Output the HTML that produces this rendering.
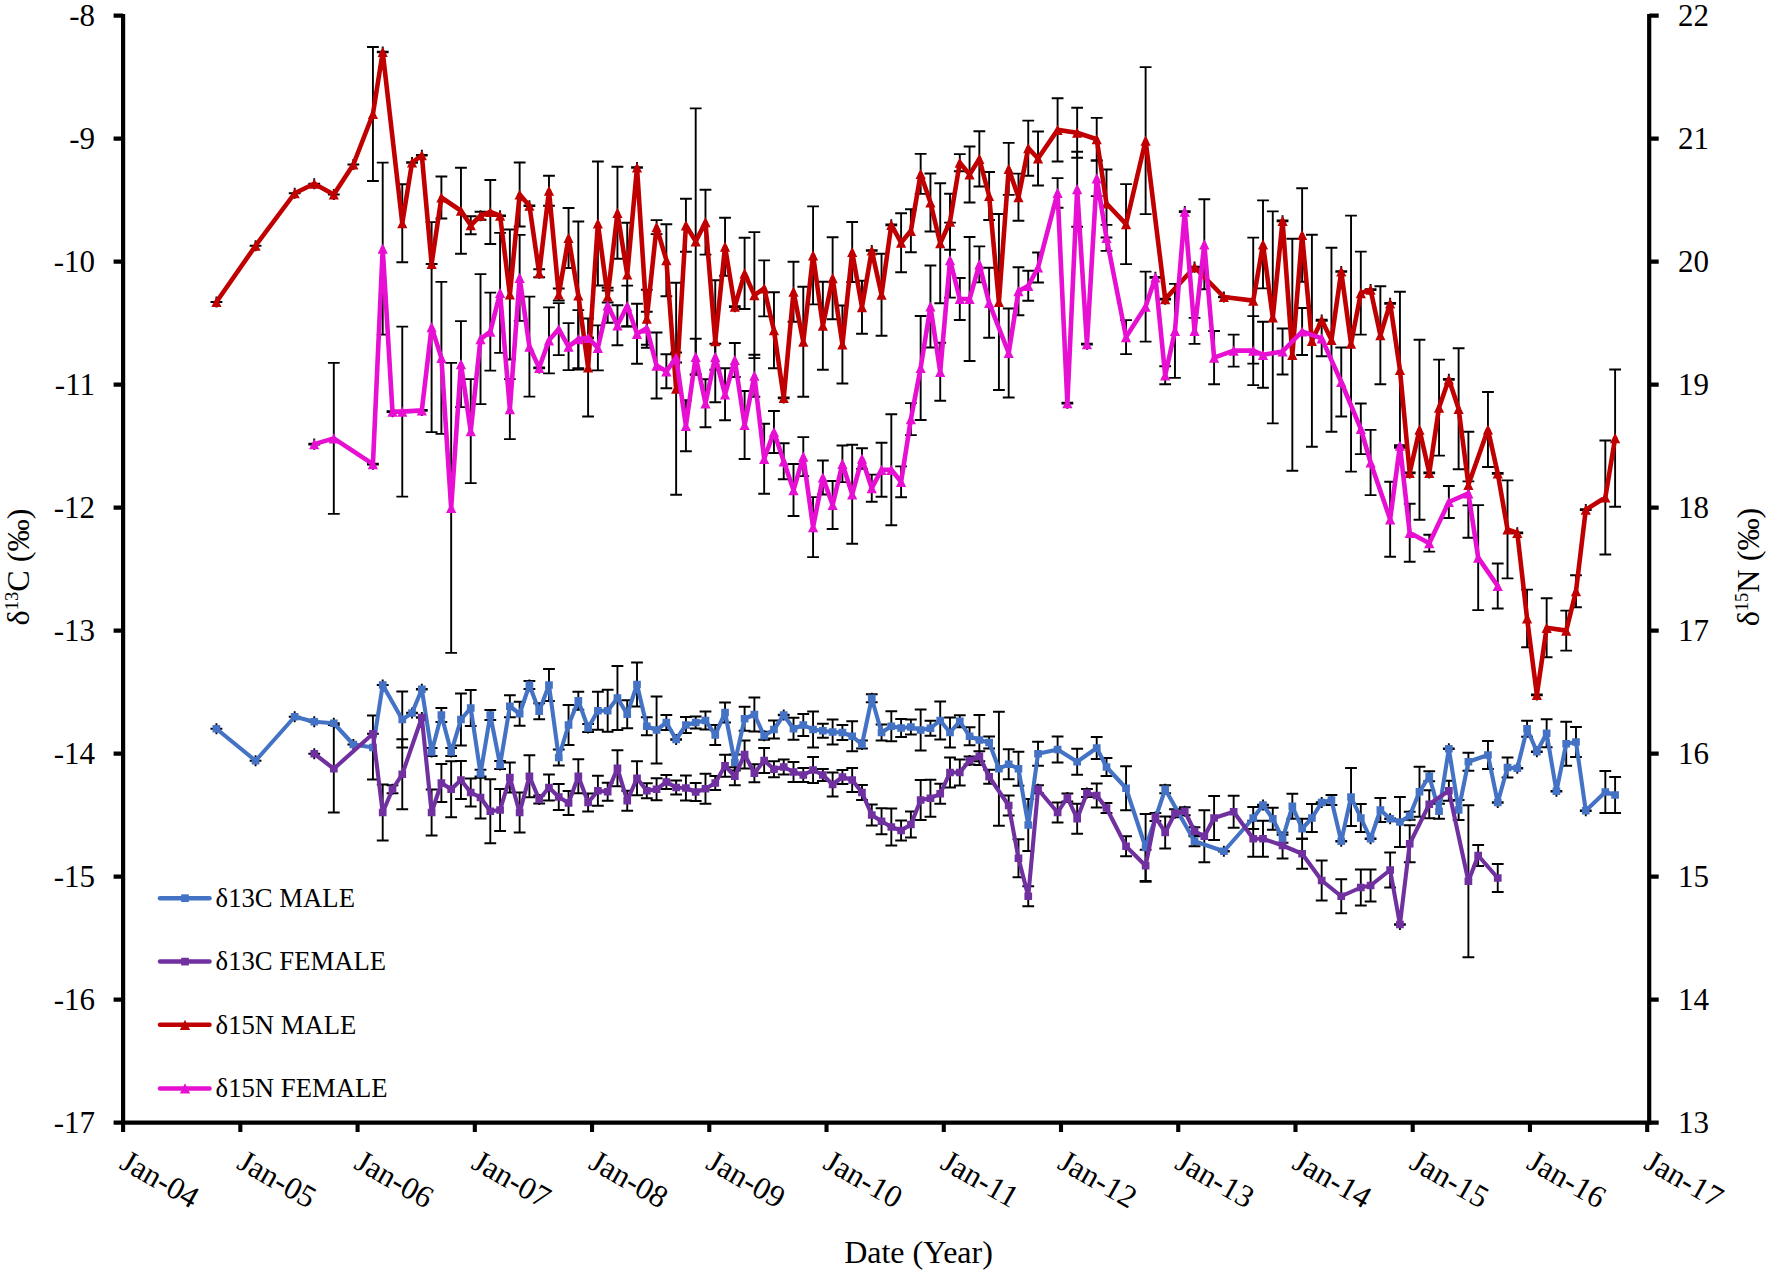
<!DOCTYPE html><html><head><meta charset="utf-8"><title>Stable isotope chart</title>
<style>html,body{margin:0;padding:0;background:#fff}svg{display:block}text{font-family:"Liberation Serif",serif;fill:#000}</style></head><body>
<svg width="1772" height="1276" viewBox="0 0 1772 1276">
<rect width="1772" height="1276" fill="#fff"/>
<path d="M216.43 723.15V734.35M210.53 728.75h11.8M255.55 755.15V766.35M249.65 760.75h11.8M294.68 711.15V722.35M288.78 716.75h11.8M314.24 716.15V727.35M308.34 721.75h11.8M333.8 717.65V728.85M327.9 723.25h11.8M353.36 738.9V750.1M347.46 744.5h11.8M372.93 715.5V779.5M367.03 715.5h11.8M367.03 779.5h11.8M382.71 679.4V690.6M376.81 685h11.8M402.27 691.5V747.5M396.37 691.5h11.8M396.37 747.5h11.8M412.05 707.4V718.6M406.15 712.6h11.8M406.15 713.4h11.8M421.83 683.65V694.85M415.93 688.85h11.8M415.93 689.65h11.8M431.61 746.4V757.6M425.71 748h11.8M425.71 756h11.8M441.39 708V722M435.49 708h11.8M435.49 722h11.8M451.17 746.4V757.6M445.27 748h11.8M445.27 756h11.8M460.95 693.5V745.5M455.05 693.5h11.8M455.05 745.5h11.8M470.74 690V726M464.84 690h11.8M464.84 726h11.8M480.52 768.15V779.35M474.62 769.75h11.8M474.62 777.75h11.8M490.3 709.4V720.6M484.4 710h11.8M484.4 720h11.8M500.08 759.4V770.6M494.18 761h11.8M494.18 769h11.8M509.86 695.25V717.25M503.96 695.25h11.8M503.96 717.25h11.8M519.64 701.75V725.75M513.74 701.75h11.8M513.74 725.75h11.8M529.42 679.4V690.6M523.52 681h11.8M523.52 689h11.8M539.2 703.25V719.25M533.3 703.25h11.8M533.3 719.25h11.8M548.98 669V701M543.08 669h11.8M543.08 701h11.8M558.76 749.5V765.5M552.86 749.5h11.8M552.86 765.5h11.8M568.55 705V745M562.65 705h11.8M562.65 745h11.8M578.33 691.75V709.75M572.43 691.75h11.8M572.43 709.75h11.8M588.11 722.4V733.6M582.21 724h11.8M582.21 732h11.8M597.89 691.75V729.75M591.99 691.75h11.8M591.99 729.75h11.8M607.67 689.75V731.75M601.77 689.75h11.8M601.77 731.75h11.8M617.45 666V730M611.55 666h11.8M611.55 730h11.8M627.23 700.25V728.25M621.33 700.25h11.8M621.33 728.25h11.8M637.01 662.5V706.5M631.11 662.5h11.8M631.11 706.5h11.8M646.79 717.25V735.25M640.89 717.25h11.8M640.89 735.25h11.8M656.57 696.5V763.5M650.67 696.5h11.8M650.67 763.5h11.8M666.36 715V730M660.46 715h11.8M660.46 730h11.8M676.14 733.9V745.1M670.24 739.1h11.8M670.24 739.9h11.8M685.92 717V733M680.02 717h11.8M680.02 733h11.8M695.7 716.5V728.5M689.8 716.5h11.8M689.8 728.5h11.8M705.48 711.5V729.5M699.58 711.5h11.8M699.58 729.5h11.8M715.26 725V745M709.36 725h11.8M709.36 745h11.8M725.04 702.5V722.5M719.14 702.5h11.8M719.14 722.5h11.8M734.82 754.5V770.5M728.92 754.5h11.8M728.92 770.5h11.8M744.6 706.75V730.75M738.7 706.75h11.8M738.7 730.75h11.8M754.38 697.5V731.5M748.48 697.5h11.8M748.48 731.5h11.8M764.16 730.15V741.35M758.26 731.75h11.8M758.26 739.75h11.8M773.95 720.5V738.5M768.05 720.5h11.8M768.05 738.5h11.8M783.73 709.4V720.6M777.83 714.6h11.8M777.83 715.4h11.8M793.51 717.75V739.75M787.61 717.75h11.8M787.61 739.75h11.8M803.29 714V736M797.39 714h11.8M797.39 736h11.8M813.07 711.5V747.5M807.17 711.5h11.8M807.17 747.5h11.8M822.85 723.75V737.75M816.95 723.75h11.8M816.95 737.75h11.8M832.63 719.5V744.5M826.73 719.5h11.8M826.73 744.5h11.8M842.41 725V740M836.51 725h11.8M836.51 740h11.8M852.19 721.25V751.25M846.29 721.25h11.8M846.29 751.25h11.8M861.98 738.9V750.1M856.08 740.5h11.8M856.08 748.5h11.8M871.76 692.65V703.85M865.86 694.25h11.8M865.86 702.25h11.8M881.54 724.5V740.5M875.64 724.5h11.8M875.64 740.5h11.8M891.32 711.25V741.25M885.42 711.25h11.8M885.42 741.25h11.8M901.1 719V737M895.2 719h11.8M895.2 737h11.8M910.88 719.5V734.5M904.98 719.5h11.8M904.98 734.5h11.8M920.66 709.5V750.5M914.76 709.5h11.8M914.76 750.5h11.8M930.44 720.75V735.75M924.54 720.75h11.8M924.54 735.75h11.8M940.22 701.5V739.5M934.32 701.5h11.8M934.32 739.5h11.8M950 717.5V747.5M944.1 717.5h11.8M944.1 747.5h11.8M959.79 715.25V727.25M953.89 715.25h11.8M953.89 727.25h11.8M969.57 727.25V745.25M963.67 727.25h11.8M963.67 745.25h11.8M979.35 715V765M973.45 715h11.8M973.45 765h11.8M989.13 736.5V748.5M983.23 736.5h11.8M983.23 748.5h11.8M998.91 711.75V825.75M993.01 711.75h11.8M993.01 825.75h11.8M1008.69 749.25V779.25M1002.79 749.25h11.8M1002.79 779.25h11.8M1018.47 751.75V785.75M1012.57 751.75h11.8M1012.57 785.75h11.8M1028.25 799V851M1022.35 799h11.8M1022.35 851h11.8M1038.03 741.75V765.75M1032.13 741.75h11.8M1032.13 765.75h11.8M1057.6 736.5V762.5M1051.69 736.5h11.8M1051.69 762.5h11.8M1077.16 748.75V774.75M1071.26 748.75h11.8M1071.26 774.75h11.8M1096.72 737V759M1090.82 737h11.8M1090.82 759h11.8M1106.5 758V776M1100.6 758h11.8M1100.6 776h11.8M1126.06 766.25V810.25M1120.16 766.25h11.8M1120.16 810.25h11.8M1145.62 814V881M1139.72 814h11.8M1139.72 881h11.8M1165.19 783.65V794.85M1159.29 785.25h11.8M1159.29 793.25h11.8M1194.53 835.65V846.85M1188.63 836.25h11.8M1188.63 846.25h11.8M1223.87 845.65V856.85M1217.97 850.85h11.8M1217.97 851.65h11.8M1253.22 807V829M1247.32 807h11.8M1247.32 829h11.8M1263 799.4V810.6M1257.1 804.6h11.8M1257.1 805.4h11.8M1272.78 807.75V829.75M1266.88 807.75h11.8M1266.88 829.75h11.8M1282.56 833.15V844.35M1276.66 834.75h11.8M1276.66 842.75h11.8M1292.34 793.75V818.75M1286.44 793.75h11.8M1286.44 818.75h11.8M1302.12 818.75V838.75M1296.22 818.75h11.8M1296.22 838.75h11.8M1311.9 804V832M1306 804h11.8M1306 832h11.8M1321.68 796.9V808.1M1315.78 802.1h11.8M1315.78 802.9h11.8M1331.46 794.4V805.6M1325.56 795h11.8M1325.56 805h11.8M1341.24 835.65V846.85M1335.34 840.85h11.8M1335.34 841.65h11.8M1351.03 768V826M1345.12 768h11.8M1345.12 826h11.8M1360.81 804V832M1354.91 804h11.8M1354.91 832h11.8M1370.59 833.15V844.35M1364.69 838.35h11.8M1364.69 839.15h11.8M1380.37 798V822M1374.47 798h11.8M1374.47 822h11.8M1390.15 813.15V824.35M1384.25 818.35h11.8M1384.25 819.15h11.8M1399.93 797V847M1394.03 797h11.8M1394.03 847h11.8M1409.71 810.15V821.35M1403.81 811.75h11.8M1403.81 819.75h11.8M1419.49 766.75V816.75M1413.59 766.75h11.8M1413.59 816.75h11.8M1429.27 770.65V781.85M1423.37 771.25h11.8M1423.37 781.25h11.8M1439.05 803.75V818.75M1433.15 803.75h11.8M1433.15 818.75h11.8M1448.84 743.15V754.35M1442.94 748.35h11.8M1442.94 749.15h11.8M1458.62 800V820M1452.72 800h11.8M1452.72 820h11.8M1468.4 752.75V770.75M1462.5 752.75h11.8M1462.5 770.75h11.8M1487.96 741V769M1482.06 741h11.8M1482.06 769h11.8M1497.74 796.9V808.1M1491.84 802.1h11.8M1491.84 802.9h11.8M1507.52 757.5V777.5M1501.62 757.5h11.8M1501.62 777.5h11.8M1517.3 762.65V773.85M1511.4 767.85h11.8M1511.4 768.65h11.8M1527.08 720.75V736.75M1521.18 720.75h11.8M1521.18 736.75h11.8M1536.86 746.15V757.35M1530.96 751.35h11.8M1530.96 752.15h11.8M1546.65 719.25V747.25M1540.75 719.25h11.8M1540.75 747.25h11.8M1556.43 785.65V796.85M1550.53 790.85h11.8M1550.53 791.65h11.8M1566.21 721.75V765.75M1560.31 721.75h11.8M1560.31 765.75h11.8M1575.99 727V757M1570.09 727h11.8M1570.09 757h11.8M1585.77 805.15V816.35M1579.87 810.35h11.8M1579.87 811.15h11.8M1605.33 771V813M1599.43 771h11.8M1599.43 813h11.8M1615.11 777V813M1609.21 777h11.8M1609.21 813h11.8" fill="none" stroke="#000" stroke-width="1.9"/>
<path d="M314.24 748.15V759.35M308.34 753.75h11.8M333.8 725V812.5M327.9 725h11.8M327.9 812.5h11.8M372.93 728.15V739.35M367.03 733.75h11.8M382.71 784.5V840.5M376.81 784.5h11.8M376.81 840.5h11.8M392.49 783.65V794.85M386.59 785.25h11.8M386.59 793.25h11.8M402.27 739.25V809.25M396.37 739.25h11.8M396.37 809.25h11.8M421.83 711.9V723.1M415.93 717.1h11.8M415.93 717.9h11.8M431.61 789.5V835.5M425.71 789.5h11.8M425.71 835.5h11.8M441.39 764V802M435.49 764h11.8M435.49 802h11.8M451.17 761.25V817.25M445.27 761.25h11.8M445.27 817.25h11.8M460.95 761V799M455.05 761h11.8M455.05 799h11.8M470.74 778.5V806.5M464.84 778.5h11.8M464.84 806.5h11.8M480.52 776.5V818.5M474.62 776.5h11.8M474.62 818.5h11.8M490.3 779.25V843.25M484.4 779.25h11.8M484.4 843.25h11.8M500.08 789V831M494.18 789h11.8M494.18 831h11.8M509.86 762.5V792.5M503.96 762.5h11.8M503.96 792.5h11.8M519.64 792.5V832.5M513.74 792.5h11.8M513.74 832.5h11.8M529.42 755.25V797.25M523.52 755.25h11.8M523.52 797.25h11.8M539.2 793.9V805.1M533.3 795.5h11.8M533.3 803.5h11.8M548.98 774.5V800.5M543.08 774.5h11.8M543.08 800.5h11.8M558.76 784V810M552.86 784h11.8M552.86 810h11.8M568.55 791V815M562.65 791h11.8M562.65 815h11.8M578.33 759.25V793.25M572.43 759.25h11.8M572.43 793.25h11.8M588.11 793.5V811.5M582.21 793.5h11.8M582.21 811.5h11.8M597.89 775.75V805.75M591.99 775.75h11.8M591.99 805.75h11.8M607.67 782.75V800.75M601.77 782.75h11.8M601.77 800.75h11.8M617.45 750.25V786.25M611.55 750.25h11.8M611.55 786.25h11.8M627.23 790.75V810.75M621.33 790.75h11.8M621.33 810.75h11.8M637.01 761.25V795.25M631.11 761.25h11.8M631.11 795.25h11.8M646.79 783.25V798.25M640.89 783.25h11.8M640.89 798.25h11.8M656.57 778.25V800.25M650.67 778.25h11.8M650.67 800.25h11.8M666.36 775V789M660.46 775h11.8M660.46 789h11.8M676.14 780.5V794.5M670.24 780.5h11.8M670.24 794.5h11.8M685.92 775.5V800.5M680.02 775.5h11.8M680.02 800.5h11.8M695.7 783V801M689.8 783h11.8M689.8 801h11.8M705.48 773.75V803.75M699.58 773.75h11.8M699.58 803.75h11.8M715.26 776V790M709.36 776h11.8M709.36 790h11.8M725.04 754.75V776.75M719.14 754.75h11.8M719.14 776.75h11.8M734.82 767.25V785.25M728.92 767.25h11.8M728.92 785.25h11.8M744.6 740.5V768.5M738.7 740.5h11.8M738.7 768.5h11.8M754.38 764.25V782.25M748.48 764.25h11.8M748.48 782.25h11.8M764.16 748V773M758.26 748h11.8M758.26 773h11.8M773.95 761.25V777.25M768.05 761.25h11.8M768.05 777.25h11.8M783.73 759.5V774.5M777.83 759.5h11.8M777.83 774.5h11.8M793.51 762V782M787.61 762h11.8M787.61 782h11.8M803.29 768V782M797.39 768h11.8M797.39 782h11.8M813.07 757V783M807.17 757h11.8M807.17 783h11.8M822.85 769V781M816.95 769h11.8M816.95 781h11.8M832.63 772.5V796.5M826.73 772.5h11.8M826.73 796.5h11.8M842.41 770V784M836.51 770h11.8M836.51 784h11.8M852.19 768V792M846.29 768h11.8M846.29 792h11.8M861.98 785V800M856.08 785h11.8M856.08 800h11.8M871.76 804.5V825.5M865.86 804.5h11.8M865.86 825.5h11.8M881.54 808.25V834.25M875.64 808.25h11.8M875.64 834.25h11.8M891.32 808.5V845.5M885.42 808.5h11.8M885.42 845.5h11.8M901.1 820.5V840.5M895.2 820.5h11.8M895.2 840.5h11.8M910.88 811.5V837.5M904.98 811.5h11.8M904.98 837.5h11.8M920.66 780V820M914.76 780h11.8M914.76 820h11.8M930.44 779.75V816.75M924.54 779.75h11.8M924.54 816.75h11.8M940.22 783.75V803.75M934.32 783.75h11.8M934.32 803.75h11.8M950 757.5V787.5M944.1 757.5h11.8M944.1 787.5h11.8M959.79 759.5V785.5M953.89 759.5h11.8M953.89 785.5h11.8M969.57 754.9V766.1M963.67 756.5h11.8M963.67 764.5h11.8M979.35 750.65V761.85M973.45 751.25h11.8M973.45 761.25h11.8M989.13 769.75V783.75M983.23 769.75h11.8M983.23 783.75h11.8M1008.69 795.5V815.5M1002.79 795.5h11.8M1002.79 815.5h11.8M1018.47 839.25V877.25M1012.57 839.25h11.8M1012.57 877.25h11.8M1028.25 886.25V906.25M1022.35 886.25h11.8M1022.35 906.25h11.8M1038.03 783.65V794.85M1032.13 785.25h11.8M1032.13 793.25h11.8M1057.6 802.5V822.5M1051.69 802.5h11.8M1051.69 822.5h11.8M1067.38 791.9V803.1M1061.48 793.5h11.8M1061.48 801.5h11.8M1077.16 803.75V833.75M1071.26 803.75h11.8M1071.26 833.75h11.8M1086.94 787.4V798.6M1081.04 789h11.8M1081.04 797h11.8M1096.72 783.5V807.5M1090.82 783.5h11.8M1090.82 807.5h11.8M1106.5 802.4V813.6M1100.6 803h11.8M1100.6 813h11.8M1126.06 836.25V856.25M1120.16 836.25h11.8M1120.16 856.25h11.8M1145.62 849.75V881.75M1139.72 849.75h11.8M1139.72 881.75h11.8M1155.41 811.4V822.6M1149.51 813h11.8M1149.51 821h11.8M1165.19 816.5V848.5M1159.29 816.5h11.8M1159.29 848.5h11.8M1174.97 807.65V818.85M1169.07 809.25h11.8M1169.07 817.25h11.8M1184.75 805.65V816.85M1178.85 807.25h11.8M1178.85 815.25h11.8M1194.53 825.65V836.85M1188.63 827.25h11.8M1188.63 835.25h11.8M1204.31 810.25V862.25M1198.41 810.25h11.8M1198.41 862.25h11.8M1214.09 796V840M1208.19 796h11.8M1208.19 840h11.8M1233.65 795.75V827.75M1227.75 795.75h11.8M1227.75 827.75h11.8M1253.22 820.75V856.75M1247.32 820.75h11.8M1247.32 856.75h11.8M1263 820.75V856.75M1257.1 820.75h11.8M1257.1 856.75h11.8M1282.56 832.5V858.5M1276.66 832.5h11.8M1276.66 858.5h11.8M1302.12 838.75V868.75M1296.22 838.75h11.8M1296.22 868.75h11.8M1321.68 860.5V900.5M1315.78 860.5h11.8M1315.78 900.5h11.8M1341.24 879.25V913.25M1335.34 879.25h11.8M1335.34 913.25h11.8M1360.81 869.5V905.5M1354.91 869.5h11.8M1354.91 905.5h11.8M1370.59 869.5V901.5M1364.69 869.5h11.8M1364.69 901.5h11.8M1390.15 852.5V887.5M1384.25 852.5h11.8M1384.25 887.5h11.8M1399.93 918.9V930.1M1394.03 924.1h11.8M1394.03 924.9h11.8M1409.71 825.25V862.25M1403.81 825.25h11.8M1403.81 862.25h11.8M1429.27 790.25V818.25M1423.37 790.25h11.8M1423.37 818.25h11.8M1448.84 780.75V800.75M1442.94 780.75h11.8M1442.94 800.75h11.8M1468.4 805.25V957.25M1462.5 805.25h11.8M1462.5 957.25h11.8M1478.18 845V866M1472.28 845h11.8M1472.28 866h11.8M1497.74 864V892M1491.84 864h11.8M1491.84 892h11.8" fill="none" stroke="#000" stroke-width="1.9"/>
<path d="M216.43 296.4V307.6M210.53 302h11.8M255.55 240.15V251.35M249.65 245.75h11.8M294.68 187.65V198.85M288.78 193.25h11.8M314.24 178.15V189.35M308.34 183.75h11.8M333.8 188.9V200.1M327.9 194.5h11.8M353.36 158.9V170.1M347.46 164.5h11.8M372.93 47V181M367.03 47h11.8M367.03 181h11.8M382.71 46.4V57.6M376.81 51.6h11.8M376.81 52.4h11.8M402.27 184.25V262.25M396.37 184.25h11.8M396.37 262.25h11.8M412.05 156.9V168.1M406.15 162.1h11.8M406.15 162.9h11.8M421.83 149.65V160.85M415.93 154.85h11.8M415.93 155.65h11.8M431.61 258.4V269.6M425.71 264h11.8M441.39 176.5V218.5M435.49 176.5h11.8M435.49 218.5h11.8M460.95 167.75V253.75M455.05 167.75h11.8M455.05 253.75h11.8M470.74 216.25V234.25M464.84 216.25h11.8M464.84 234.25h11.8M480.52 210.15V221.35M474.62 211.75h11.8M474.62 219.75h11.8M490.3 180V244M484.4 180h11.8M484.4 244h11.8M500.08 210.15V221.35M494.18 215.35h11.8M494.18 216.15h11.8M509.86 229.5V359.5M503.96 229.5h11.8M503.96 359.5h11.8M519.64 162.5V226.5M513.74 162.5h11.8M513.74 226.5h11.8M529.42 200.15V211.35M523.52 205.35h11.8M523.52 206.15h11.8M539.2 267.65V278.85M533.3 269.25h11.8M533.3 277.25h11.8M548.98 175.75V205.75M543.08 175.75h11.8M543.08 205.75h11.8M558.76 288.5V300.5M552.86 288.5h11.8M552.86 300.5h11.8M568.55 208V268M562.65 208h11.8M562.65 268h11.8M578.33 221.5V369.5M572.43 221.5h11.8M572.43 369.5h11.8M588.11 318.5V416.5M582.21 318.5h11.8M582.21 416.5h11.8M597.89 161.5V285.5M591.99 161.5h11.8M591.99 285.5h11.8M607.67 290.5V302.5M601.77 290.5h11.8M601.77 302.5h11.8M617.45 166.8V258.8M611.55 166.8h11.8M611.55 258.8h11.8M627.23 222.8V326.2M621.33 222.8h11.8M621.33 326.2h11.8M637.01 161.9V173.1M631.11 167.1h11.8M631.11 167.9h11.8M646.79 289.7V347.7M640.89 289.7h11.8M640.89 347.7h11.8M656.57 220.1V234.1M650.67 220.1h11.8M650.67 234.1h11.8M666.36 224.2V296.2M660.46 224.2h11.8M660.46 296.2h11.8M676.14 282.7V494.7M670.24 282.7h11.8M670.24 494.7h11.8M685.92 198.8V251.8M680.02 198.8h11.8M680.02 251.8h11.8M695.7 108.4V374.4M689.8 108.4h11.8M689.8 374.4h11.8M705.48 189.8V254.6M699.58 189.8h11.8M699.58 254.6h11.8M715.26 280.2V402.2M709.36 280.2h11.8M709.36 402.2h11.8M725.04 217.7V275.7M719.14 217.7h11.8M719.14 275.7h11.8M734.82 301.1V312.3M728.92 306.3h11.8M728.92 307.1h11.8M744.6 237.8V309M738.7 237.8h11.8M738.7 309h11.8M754.38 232.1V358.1M748.48 232.1h11.8M748.48 358.1h11.8M764.16 260.4V316.4M758.26 260.4h11.8M758.26 316.4h11.8M773.95 292.2V368.2M768.05 292.2h11.8M768.05 368.2h11.8M783.73 392.35V403.55M777.83 397.55h11.8M777.83 398.35h11.8M793.51 261.7V321.7M787.61 261.7h11.8M787.61 321.7h11.8M803.29 286.7V396.7M797.39 286.7h11.8M797.39 396.7h11.8M813.07 206.4V304.4M807.17 206.4h11.8M807.17 304.4h11.8M822.85 281.7V369.7M816.95 281.7h11.8M816.95 369.7h11.8M832.63 237.2V319.2M826.73 237.2h11.8M826.73 319.2h11.8M842.41 305.45V383.45M836.51 305.45h11.8M836.51 383.45h11.8M852.19 222V282M846.29 222h11.8M846.29 282h11.8M861.98 280.7V333.7M856.08 280.7h11.8M856.08 333.7h11.8M871.76 244.9V256.1M865.86 250.1h11.8M865.86 250.9h11.8M881.54 253.7V335.7M875.64 253.7h11.8M875.64 335.7h11.8M891.32 219.3V230.5M885.42 224.5h11.8M885.42 225.3h11.8M901.1 213.2V272.2M895.2 213.2h11.8M895.2 272.2h11.8M910.88 209.3V252.3M904.98 209.3h11.8M904.98 252.3h11.8M920.66 153.9V193.9M914.76 153.9h11.8M914.76 193.9h11.8M930.44 173.5V231.5M924.54 173.5h11.8M924.54 231.5h11.8M940.22 183.2V303.2M934.32 183.2h11.8M934.32 303.2h11.8M950 193.7V249.7M944.1 193.7h11.8M944.1 249.7h11.8M959.79 154.1V171.3M953.89 154.1h11.8M953.89 171.3h11.8M969.57 146.5V202.5M963.67 146.5h11.8M963.67 202.5h11.8M979.35 131.3V186.5M973.45 131.3h11.8M973.45 186.5h11.8M989.13 172V220M983.23 172h11.8M983.23 220h11.8M998.91 214V390M993.01 214h11.8M993.01 390h11.8M1008.69 142.9V194.9M1002.79 142.9h11.8M1002.79 194.9h11.8M1018.47 173.6V220.8M1012.57 173.6h11.8M1012.57 220.8h11.8M1028.25 120.6V175.8M1022.35 120.6h11.8M1022.35 175.8h11.8M1038.03 131.5V185.5M1032.13 131.5h11.8M1032.13 185.5h11.8M1057.6 98.3V161.5M1051.69 98.3h11.8M1051.69 161.5h11.8M1077.16 107.7V157.7M1071.26 107.7h11.8M1071.26 157.7h11.8M1096.72 117.9V160.5M1090.82 117.9h11.8M1090.82 160.5h11.8M1106.5 169.5V237.5M1100.6 169.5h11.8M1100.6 237.5h11.8M1126.06 184.1V264.1M1120.16 184.1h11.8M1120.16 264.1h11.8M1145.62 67.1V214.1M1139.72 67.1h11.8M1139.72 214.1h11.8M1165.19 293.5V304.7M1159.29 298.7h11.8M1159.29 299.5h11.8M1194.53 261.6V272.8M1188.63 266.8h11.8M1188.63 267.6h11.8M1223.87 291.4V302.6M1217.97 296.6h11.8M1217.97 297.4h11.8M1253.22 237.6V363.6M1247.32 237.6h11.8M1247.32 363.6h11.8M1263 200.4V288.4M1257.1 200.4h11.8M1257.1 288.4h11.8M1272.78 211.4V423.4M1266.88 211.4h11.8M1266.88 423.4h11.8M1282.56 215.3V226.5M1276.66 220.5h11.8M1276.66 221.3h11.8M1292.34 238.8V470.8M1286.44 238.8h11.8M1286.44 470.8h11.8M1302.12 188.3V281.7M1296.22 188.3h11.8M1296.22 281.7h11.8M1311.9 234.8V446.8M1306 234.8h11.8M1306 446.8h11.8M1321.68 314.6V325.8M1315.78 319.8h11.8M1315.78 320.6h11.8M1331.46 247.8V431.8M1325.56 247.8h11.8M1325.56 431.8h11.8M1341.24 265.9V277.1M1335.34 271.1h11.8M1335.34 271.9h11.8M1351.03 215.6V471.6M1345.12 215.6h11.8M1345.12 471.6h11.8M1360.81 251.6V334.6M1354.91 251.6h11.8M1354.91 334.6h11.8M1370.59 284.1V295.3M1364.69 289.3h11.8M1364.69 290.1h11.8M1380.37 286.2V384.2M1374.47 286.2h11.8M1374.47 384.2h11.8M1390.15 297.8V309M1384.25 303h11.8M1384.25 303.8h11.8M1399.93 291.8V447.8M1394.03 291.8h11.8M1394.03 447.8h11.8M1409.71 467.2V478.4M1403.81 472.4h11.8M1403.81 473.2h11.8M1419.49 339.7V519.7M1413.59 339.7h11.8M1413.59 519.7h11.8M1429.27 467.2V478.4M1423.37 472.4h11.8M1423.37 473.2h11.8M1439.05 359.6V455.6M1433.15 359.6h11.8M1433.15 455.6h11.8M1448.84 373.7V384.9M1442.94 378.9h11.8M1442.94 379.7h11.8M1458.62 348.3V469.3M1452.72 348.3h11.8M1452.72 469.3h11.8M1468.4 431.8V537.8M1462.5 431.8h11.8M1462.5 537.8h11.8M1487.96 392V467M1482.06 392h11.8M1482.06 467h11.8M1497.74 467.8V479M1491.84 473h11.8M1491.84 473.8h11.8M1507.52 480.4V578.4M1501.62 480.4h11.8M1501.62 578.4h11.8M1517.3 527.2V538.4M1511.4 532.4h11.8M1511.4 533.2h11.8M1527.08 589.6V647.2M1521.18 589.6h11.8M1521.18 647.2h11.8M1536.86 689.2V700.4M1530.96 694.4h11.8M1530.96 695.2h11.8M1546.65 598.3V657.3M1540.75 598.3h11.8M1540.75 657.3h11.8M1566.21 610.6V650.6M1560.31 610.6h11.8M1560.31 650.6h11.8M1575.99 575.2V607.2M1570.09 575.2h11.8M1570.09 607.2h11.8M1585.77 504.1V515.3M1579.87 509.3h11.8M1579.87 510.1h11.8M1605.33 440.5V554.5M1599.43 440.5h11.8M1599.43 554.5h11.8M1615.11 369.5V506.7M1609.21 369.5h11.8M1609.21 506.7h11.8" fill="none" stroke="#000" stroke-width="1.9"/>
<path d="M314.24 438.5V449.7M308.34 443.7h11.8M308.34 444.5h11.8M333.8 362.85V513.85M327.9 362.85h11.8M327.9 513.85h11.8M372.93 458.5V469.7M367.03 463.7h11.8M367.03 464.5h11.8M382.71 162.6V334.6M376.81 162.6h11.8M376.81 334.6h11.8M392.49 406V417.2M386.59 411.2h11.8M386.59 412h11.8M402.27 326.6V496.6M396.37 326.6h11.8M396.37 496.6h11.8M421.83 404.75V415.95M415.93 409.95h11.8M415.93 410.75h11.8M431.61 222.1V432.1M425.71 222.1h11.8M425.71 432.1h11.8M441.39 281.85V433.85M435.49 281.85h11.8M435.49 433.85h11.8M451.17 362.85V652.85M445.27 362.85h11.8M445.27 652.85h11.8M460.95 321.1V407.1M455.05 321.1h11.8M455.05 407.1h11.8M470.74 379.1V483.1M464.84 379.1h11.8M464.84 483.1h11.8M480.52 274.1V404.1M474.62 274.1h11.8M474.62 404.1h11.8M490.3 292.6V370.6M484.4 292.6h11.8M484.4 370.6h11.8M500.08 232.85V352.85M494.18 232.85h11.8M494.18 352.85h11.8M509.86 379.1V439.1M503.96 379.1h11.8M503.96 439.1h11.8M519.64 234.85V320.85M513.74 234.85h11.8M513.74 320.85h11.8M529.42 296.6V396.6M523.52 296.6h11.8M523.52 396.6h11.8M539.2 362.25V373.45M533.3 367.45h11.8M533.3 368.25h11.8M548.98 307.35V373.35M543.08 307.35h11.8M543.08 373.35h11.8M558.76 303.1V355.1M552.86 303.1h11.8M552.86 355.1h11.8M568.55 323.1V370.1M562.65 323.1h11.8M562.65 370.1h11.8M578.33 310.1V368.1M572.43 310.1h11.8M572.43 368.1h11.8M588.11 332.25V343.45M582.21 337.45h11.8M582.21 338.25h11.8M597.89 325.35V370.35M591.99 325.35h11.8M591.99 370.35h11.8M607.67 287.8V322.8M601.77 287.8h11.8M601.77 322.8h11.8M617.45 305.3V345.3M611.55 305.3h11.8M611.55 345.3h11.8M627.23 285.6V326.6M621.33 285.6h11.8M621.33 326.6h11.8M637.01 303.8V363.8M631.11 303.8h11.8M631.11 363.8h11.8M646.79 311.8V344.8M640.89 311.8h11.8M640.89 344.8h11.8M656.57 332.55V398.55M650.67 332.55h11.8M650.67 398.55h11.8M666.36 354.3V388.3M660.46 354.3h11.8M660.46 388.3h11.8M676.14 351.95V363.15M670.24 352.55h11.8M670.24 362.55h11.8M685.92 400.3V451.3M680.02 400.3h11.8M680.02 451.3h11.8M695.7 338.8V374.8M689.8 338.8h11.8M689.8 374.8h11.8M705.48 379.3V427.3M699.58 379.3h11.8M699.58 427.3h11.8M715.26 343.8V369.8M709.36 343.8h11.8M709.36 369.8h11.8M725.04 368.3V420.3M719.14 368.3h11.8M719.14 420.3h11.8M734.82 343V377M728.92 343h11.8M728.92 377h11.8M744.6 391V459M738.7 391h11.8M738.7 459h11.8M754.38 354.75V396.75M748.48 354.75h11.8M748.48 396.75h11.8M764.16 423.8V493.8M758.26 423.8h11.8M758.26 493.8h11.8M773.95 411V453M768.05 411h11.8M768.05 453h11.8M783.73 443.3V479.3M777.83 443.3h11.8M777.83 479.3h11.8M793.51 464.05V516.05M787.61 464.05h11.8M787.61 516.05h11.8M803.29 437.1V476.1M797.39 437.1h11.8M797.39 476.1h11.8M813.07 497.1V557.1M807.17 497.1h11.8M807.17 557.1h11.8M822.85 460.5V494.5M816.95 460.5h11.8M816.95 494.5h11.8M832.63 481V529M826.73 481h11.8M826.73 529h11.8M842.41 445.5V482.1M836.51 445.5h11.8M836.51 482.1h11.8M852.19 444.8V543.8M846.29 444.8h11.8M846.29 543.8h11.8M861.98 448.3V468.9M856.08 448.3h11.8M856.08 468.9h11.8M871.76 474.6V501.8M865.86 474.6h11.8M865.86 501.8h11.8M881.54 442.8V496.8M875.64 442.8h11.8M875.64 496.8h11.8M891.32 414.3V525.3M885.42 414.3h11.8M885.42 525.3h11.8M901.1 466.4V497.2M895.2 466.4h11.8M895.2 497.2h11.8M910.88 403.1V435.1M904.98 403.1h11.8M904.98 435.1h11.8M920.66 316V420M914.76 316h11.8M914.76 420h11.8M930.44 265.5V347.5M924.54 265.5h11.8M924.54 347.5h11.8M940.22 342.8V400.8M934.32 342.8h11.8M934.32 400.8h11.8M950 222.6V297.6M944.1 222.6h11.8M944.1 297.6h11.8M959.79 278V320M953.89 278h11.8M953.89 320h11.8M969.57 237V361M963.67 237h11.8M963.67 361h11.8M979.35 246.4V282.4M973.45 246.4h11.8M973.45 282.4h11.8M989.13 267.8V337.8M983.23 267.8h11.8M983.23 337.8h11.8M1008.69 308.5V397.5M1002.79 308.5h11.8M1002.79 397.5h11.8M1018.47 267.2V315.2M1012.57 267.2h11.8M1012.57 315.2h11.8M1028.25 270.8V300.8M1022.35 270.8h11.8M1022.35 300.8h11.8M1038.03 252.5V282.5M1032.13 252.5h11.8M1032.13 282.5h11.8M1057.6 178.1V207.7M1051.69 178.1h11.8M1051.69 207.7h11.8M1067.38 397.5V408.7M1061.48 402.7h11.8M1061.48 403.5h11.8M1077.16 151.7V226.7M1071.26 151.7h11.8M1071.26 226.7h11.8M1086.94 338.5V349.7M1081.04 343.7h11.8M1081.04 344.5h11.8M1096.72 160.5V196.1M1090.82 160.5h11.8M1090.82 196.1h11.8M1106.5 224.9V250.9M1100.6 224.9h11.8M1100.6 250.9h11.8M1126.06 320.1V354.1M1120.16 320.1h11.8M1120.16 354.1h11.8M1145.62 271.6V341.6M1139.72 271.6h11.8M1139.72 341.6h11.8M1155.41 271.8V283M1149.51 277h11.8M1149.51 277.8h11.8M1165.19 366.3V384.3M1159.29 366.3h11.8M1159.29 384.3h11.8M1174.97 283.9V377.9M1169.07 283.9h11.8M1169.07 377.9h11.8M1184.75 206V217.2M1178.85 211.2h11.8M1178.85 212h11.8M1194.53 317.9V343.9M1188.63 317.9h11.8M1188.63 343.9h11.8M1204.31 199.3V289.3M1198.41 199.3h11.8M1198.41 289.3h11.8M1214.09 331V384.2M1208.19 331h11.8M1208.19 384.2h11.8M1233.65 334.6V366.6M1227.75 334.6h11.8M1227.75 366.6h11.8M1253.22 316.1V385.1M1247.32 316.1h11.8M1247.32 385.1h11.8M1263 321.8V387.8M1257.1 321.8h11.8M1257.1 387.8h11.8M1282.56 328.5V374.5M1276.66 328.5h11.8M1276.66 374.5h11.8M1302.12 308V355M1296.22 308h11.8M1296.22 355h11.8M1321.68 320.6V356.2M1315.78 320.6h11.8M1315.78 356.2h11.8M1341.24 347.5V416.5M1335.34 347.5h11.8M1335.34 416.5h11.8M1360.81 403.5V454.1M1354.91 403.5h11.8M1354.91 454.1h11.8M1370.59 429.9V495.1M1364.69 429.9h11.8M1364.69 495.1h11.8M1390.15 481.8V556.8M1384.25 481.8h11.8M1384.25 556.8h11.8M1399.93 440V451.2M1394.03 445.2h11.8M1394.03 446h11.8M1409.71 503.8V561.8M1403.81 503.8h11.8M1403.81 561.8h11.8M1429.27 534.8V551.6M1423.37 534.8h11.8M1423.37 551.6h11.8M1448.84 486V518M1442.94 486h11.8M1442.94 518h11.8M1468.4 481.4V505.4M1462.5 481.4h11.8M1462.5 505.4h11.8M1478.18 505.1V610.1M1472.28 505.1h11.8M1472.28 610.1h11.8M1497.74 563.5V608.5M1491.84 563.5h11.8M1491.84 608.5h11.8" fill="none" stroke="#000" stroke-width="1.9"/>
<polyline points="216.43,728.75 255.55,760.75 294.68,716.75 314.24,721.75 333.8,723.25 353.36,744.5 372.93,747.5 382.71,685 402.27,719.5 412.05,713 421.83,689.25 431.61,752 441.39,715 451.17,752 460.95,719.5 470.74,708 480.52,773.75 490.3,715 500.08,765 509.86,706.25 519.64,713.75 529.42,685 539.2,711.25 548.98,685 558.76,757.5 568.55,725 578.33,700.75 588.11,728 597.89,710.75 607.67,710.75 617.45,698 627.23,714.25 637.01,684.5 646.79,726.25 656.57,730 666.36,722.5 676.14,739.5 685.92,725 695.7,722.5 705.48,720.5 715.26,735 725.04,712.5 734.82,762.5 744.6,718.75 754.38,714.5 764.16,735.75 773.95,729.5 783.73,715 793.51,728.75 803.29,725 813.07,729.5 822.85,730.75 832.63,732 842.41,732.5 852.19,736.25 861.98,744.5 871.76,698.25 881.54,732.5 891.32,726.25 901.1,728 910.88,727 920.66,730 930.44,728.25 940.22,720.5 950,732.5 959.79,721.25 969.57,736.25 979.35,740 989.13,742.5 998.91,768.75 1008.69,764.25 1018.47,768.75 1028.25,825 1038.03,753.75 1057.6,749.5 1077.16,761.75 1096.72,748 1106.5,767 1126.06,788.25 1145.62,847.5 1165.19,789.25 1194.53,841.25 1223.87,851.25 1253.22,818 1263,805 1272.78,818.75 1282.56,838.75 1292.34,806.25 1302.12,828.75 1311.9,818 1321.68,802.5 1331.46,800 1341.24,841.25 1351.03,797 1360.81,818 1370.59,838.75 1380.37,810 1390.15,818.75 1399.93,822 1409.71,815.75 1419.49,791.75 1429.27,776.25 1439.05,811.25 1448.84,748.75 1458.62,810 1468.4,761.75 1487.96,755 1497.74,802.5 1507.52,767.5 1517.3,768.25 1527.08,728.75 1536.86,751.75 1546.65,733.25 1556.43,791.25 1566.21,743.75 1575.99,742 1585.77,810.75 1605.33,792 1615.11,795" fill="none" stroke="#4472c4" stroke-width="4.1" stroke-linejoin="round" stroke-linecap="round"/>
<path d="M212.58 724.9h7.7v7.7h-7.7zM251.7 756.9h7.7v7.7h-7.7zM290.83 712.9h7.7v7.7h-7.7zM310.39 717.9h7.7v7.7h-7.7zM329.95 719.4h7.7v7.7h-7.7zM349.51 740.65h7.7v7.7h-7.7zM369.07 743.65h7.7v7.7h-7.7zM378.86 681.15h7.7v7.7h-7.7zM398.42 715.65h7.7v7.7h-7.7zM408.2 709.15h7.7v7.7h-7.7zM417.98 685.4h7.7v7.7h-7.7zM427.76 748.15h7.7v7.7h-7.7zM437.54 711.15h7.7v7.7h-7.7zM447.32 748.15h7.7v7.7h-7.7zM457.1 715.65h7.7v7.7h-7.7zM466.88 704.15h7.7v7.7h-7.7zM476.67 769.9h7.7v7.7h-7.7zM486.45 711.15h7.7v7.7h-7.7zM496.23 761.15h7.7v7.7h-7.7zM506.01 702.4h7.7v7.7h-7.7zM515.79 709.9h7.7v7.7h-7.7zM525.57 681.15h7.7v7.7h-7.7zM535.35 707.4h7.7v7.7h-7.7zM545.13 681.15h7.7v7.7h-7.7zM554.91 753.65h7.7v7.7h-7.7zM564.7 721.15h7.7v7.7h-7.7zM574.48 696.9h7.7v7.7h-7.7zM584.26 724.15h7.7v7.7h-7.7zM594.04 706.9h7.7v7.7h-7.7zM603.82 706.9h7.7v7.7h-7.7zM613.6 694.15h7.7v7.7h-7.7zM623.38 710.4h7.7v7.7h-7.7zM633.16 680.65h7.7v7.7h-7.7zM642.94 722.4h7.7v7.7h-7.7zM652.72 726.15h7.7v7.7h-7.7zM662.5 718.65h7.7v7.7h-7.7zM672.29 735.65h7.7v7.7h-7.7zM682.07 721.15h7.7v7.7h-7.7zM691.85 718.65h7.7v7.7h-7.7zM701.63 716.65h7.7v7.7h-7.7zM711.41 731.15h7.7v7.7h-7.7zM721.19 708.65h7.7v7.7h-7.7zM730.97 758.65h7.7v7.7h-7.7zM740.75 714.9h7.7v7.7h-7.7zM750.53 710.65h7.7v7.7h-7.7zM760.31 731.9h7.7v7.7h-7.7zM770.1 725.65h7.7v7.7h-7.7zM779.88 711.15h7.7v7.7h-7.7zM789.66 724.9h7.7v7.7h-7.7zM799.44 721.15h7.7v7.7h-7.7zM809.22 725.65h7.7v7.7h-7.7zM819 726.9h7.7v7.7h-7.7zM828.78 728.15h7.7v7.7h-7.7zM838.56 728.65h7.7v7.7h-7.7zM848.34 732.4h7.7v7.7h-7.7zM858.12 740.65h7.7v7.7h-7.7zM867.91 694.4h7.7v7.7h-7.7zM877.69 728.65h7.7v7.7h-7.7zM887.47 722.4h7.7v7.7h-7.7zM897.25 724.15h7.7v7.7h-7.7zM907.03 723.15h7.7v7.7h-7.7zM916.81 726.15h7.7v7.7h-7.7zM926.59 724.4h7.7v7.7h-7.7zM936.37 716.65h7.7v7.7h-7.7zM946.15 728.65h7.7v7.7h-7.7zM955.94 717.4h7.7v7.7h-7.7zM965.72 732.4h7.7v7.7h-7.7zM975.5 736.15h7.7v7.7h-7.7zM985.28 738.65h7.7v7.7h-7.7zM995.06 764.9h7.7v7.7h-7.7zM1004.84 760.4h7.7v7.7h-7.7zM1014.62 764.9h7.7v7.7h-7.7zM1024.4 821.15h7.7v7.7h-7.7zM1034.18 749.9h7.7v7.7h-7.7zM1053.75 745.65h7.7v7.7h-7.7zM1073.31 757.9h7.7v7.7h-7.7zM1092.87 744.15h7.7v7.7h-7.7zM1102.65 763.15h7.7v7.7h-7.7zM1122.21 784.4h7.7v7.7h-7.7zM1141.77 843.65h7.7v7.7h-7.7zM1161.34 785.4h7.7v7.7h-7.7zM1190.68 837.4h7.7v7.7h-7.7zM1220.02 847.4h7.7v7.7h-7.7zM1249.37 814.15h7.7v7.7h-7.7zM1259.15 801.15h7.7v7.7h-7.7zM1268.93 814.9h7.7v7.7h-7.7zM1278.71 834.9h7.7v7.7h-7.7zM1288.49 802.4h7.7v7.7h-7.7zM1298.27 824.9h7.7v7.7h-7.7zM1308.05 814.15h7.7v7.7h-7.7zM1317.83 798.65h7.7v7.7h-7.7zM1327.61 796.15h7.7v7.7h-7.7zM1337.39 837.4h7.7v7.7h-7.7zM1347.18 793.15h7.7v7.7h-7.7zM1356.96 814.15h7.7v7.7h-7.7zM1366.74 834.9h7.7v7.7h-7.7zM1376.52 806.15h7.7v7.7h-7.7zM1386.3 814.9h7.7v7.7h-7.7zM1396.08 818.15h7.7v7.7h-7.7zM1405.86 811.9h7.7v7.7h-7.7zM1415.64 787.9h7.7v7.7h-7.7zM1425.42 772.4h7.7v7.7h-7.7zM1435.2 807.4h7.7v7.7h-7.7zM1444.99 744.9h7.7v7.7h-7.7zM1454.77 806.15h7.7v7.7h-7.7zM1464.55 757.9h7.7v7.7h-7.7zM1484.11 751.15h7.7v7.7h-7.7zM1493.89 798.65h7.7v7.7h-7.7zM1503.67 763.65h7.7v7.7h-7.7zM1513.45 764.4h7.7v7.7h-7.7zM1523.23 724.9h7.7v7.7h-7.7zM1533.01 747.9h7.7v7.7h-7.7zM1542.8 729.4h7.7v7.7h-7.7zM1552.58 787.4h7.7v7.7h-7.7zM1562.36 739.9h7.7v7.7h-7.7zM1572.14 738.15h7.7v7.7h-7.7zM1581.92 806.9h7.7v7.7h-7.7zM1601.48 788.15h7.7v7.7h-7.7zM1611.26 791.15h7.7v7.7h-7.7z" fill="#4472c4"/>
<polyline points="314.24,753.75 333.8,768.75 372.93,733.75 382.71,812.5 392.49,789.25 402.27,774.25 421.83,717.5 431.61,812.5 441.39,783 451.17,789.25 460.95,780 470.74,792.5 480.52,797.5 490.3,811.25 500.08,810 509.86,777.5 519.64,812.5 529.42,776.25 539.2,799.5 548.98,787.5 558.76,797 568.55,803 578.33,776.25 588.11,802.5 597.89,790.75 607.67,791.75 617.45,768.25 627.23,800.75 637.01,778.25 646.79,790.75 656.57,789.25 666.36,782 676.14,787.5 685.92,788 695.7,792 705.48,788.75 715.26,783 725.04,765.75 734.82,776.25 744.6,754.5 754.38,773.25 764.16,760.5 773.95,769.25 783.73,767 793.51,772 803.29,775 813.07,770 822.85,775 832.63,784.5 842.41,777 852.19,780 861.98,792.5 871.76,815 881.54,821.25 891.32,827 901.1,830.5 910.88,824.5 920.66,800 930.44,798.25 940.22,793.75 950,772.5 959.79,772.5 969.57,760.5 979.35,756.25 989.13,776.75 1008.69,805.5 1018.47,858.25 1028.25,896.25 1038.03,789.25 1057.6,812.5 1067.38,797.5 1077.16,818.75 1086.94,793 1096.72,795.5 1106.5,808 1126.06,846.25 1145.62,865.75 1155.41,817 1165.19,832.5 1174.97,813.25 1184.75,811.25 1194.53,831.25 1204.31,836.25 1214.09,818 1233.65,811.75 1253.22,838.75 1263,838.75 1282.56,845.5 1302.12,853.75 1321.68,880.5 1341.24,896.25 1360.81,887.5 1370.59,885.5 1390.15,870 1399.93,924.5 1409.71,843.75 1429.27,804.25 1448.84,790.75 1468.4,881.25 1478.18,855.5 1497.74,878" fill="none" stroke="#7030a0" stroke-width="4.1" stroke-linejoin="round" stroke-linecap="round"/>
<path d="M310.39 749.9h7.7v7.7h-7.7zM329.95 764.9h7.7v7.7h-7.7zM369.07 729.9h7.7v7.7h-7.7zM378.86 808.65h7.7v7.7h-7.7zM388.64 785.4h7.7v7.7h-7.7zM398.42 770.4h7.7v7.7h-7.7zM417.98 713.65h7.7v7.7h-7.7zM427.76 808.65h7.7v7.7h-7.7zM437.54 779.15h7.7v7.7h-7.7zM447.32 785.4h7.7v7.7h-7.7zM457.1 776.15h7.7v7.7h-7.7zM466.88 788.65h7.7v7.7h-7.7zM476.67 793.65h7.7v7.7h-7.7zM486.45 807.4h7.7v7.7h-7.7zM496.23 806.15h7.7v7.7h-7.7zM506.01 773.65h7.7v7.7h-7.7zM515.79 808.65h7.7v7.7h-7.7zM525.57 772.4h7.7v7.7h-7.7zM535.35 795.65h7.7v7.7h-7.7zM545.13 783.65h7.7v7.7h-7.7zM554.91 793.15h7.7v7.7h-7.7zM564.7 799.15h7.7v7.7h-7.7zM574.48 772.4h7.7v7.7h-7.7zM584.26 798.65h7.7v7.7h-7.7zM594.04 786.9h7.7v7.7h-7.7zM603.82 787.9h7.7v7.7h-7.7zM613.6 764.4h7.7v7.7h-7.7zM623.38 796.9h7.7v7.7h-7.7zM633.16 774.4h7.7v7.7h-7.7zM642.94 786.9h7.7v7.7h-7.7zM652.72 785.4h7.7v7.7h-7.7zM662.5 778.15h7.7v7.7h-7.7zM672.29 783.65h7.7v7.7h-7.7zM682.07 784.15h7.7v7.7h-7.7zM691.85 788.15h7.7v7.7h-7.7zM701.63 784.9h7.7v7.7h-7.7zM711.41 779.15h7.7v7.7h-7.7zM721.19 761.9h7.7v7.7h-7.7zM730.97 772.4h7.7v7.7h-7.7zM740.75 750.65h7.7v7.7h-7.7zM750.53 769.4h7.7v7.7h-7.7zM760.31 756.65h7.7v7.7h-7.7zM770.1 765.4h7.7v7.7h-7.7zM779.88 763.15h7.7v7.7h-7.7zM789.66 768.15h7.7v7.7h-7.7zM799.44 771.15h7.7v7.7h-7.7zM809.22 766.15h7.7v7.7h-7.7zM819 771.15h7.7v7.7h-7.7zM828.78 780.65h7.7v7.7h-7.7zM838.56 773.15h7.7v7.7h-7.7zM848.34 776.15h7.7v7.7h-7.7zM858.12 788.65h7.7v7.7h-7.7zM867.91 811.15h7.7v7.7h-7.7zM877.69 817.4h7.7v7.7h-7.7zM887.47 823.15h7.7v7.7h-7.7zM897.25 826.65h7.7v7.7h-7.7zM907.03 820.65h7.7v7.7h-7.7zM916.81 796.15h7.7v7.7h-7.7zM926.59 794.4h7.7v7.7h-7.7zM936.37 789.9h7.7v7.7h-7.7zM946.15 768.65h7.7v7.7h-7.7zM955.94 768.65h7.7v7.7h-7.7zM965.72 756.65h7.7v7.7h-7.7zM975.5 752.4h7.7v7.7h-7.7zM985.28 772.9h7.7v7.7h-7.7zM1004.84 801.65h7.7v7.7h-7.7zM1014.62 854.4h7.7v7.7h-7.7zM1024.4 892.4h7.7v7.7h-7.7zM1034.18 785.4h7.7v7.7h-7.7zM1053.75 808.65h7.7v7.7h-7.7zM1063.53 793.65h7.7v7.7h-7.7zM1073.31 814.9h7.7v7.7h-7.7zM1083.09 789.15h7.7v7.7h-7.7zM1092.87 791.65h7.7v7.7h-7.7zM1102.65 804.15h7.7v7.7h-7.7zM1122.21 842.4h7.7v7.7h-7.7zM1141.77 861.9h7.7v7.7h-7.7zM1151.56 813.15h7.7v7.7h-7.7zM1161.34 828.65h7.7v7.7h-7.7zM1171.12 809.4h7.7v7.7h-7.7zM1180.9 807.4h7.7v7.7h-7.7zM1190.68 827.4h7.7v7.7h-7.7zM1200.46 832.4h7.7v7.7h-7.7zM1210.24 814.15h7.7v7.7h-7.7zM1229.8 807.9h7.7v7.7h-7.7zM1249.37 834.9h7.7v7.7h-7.7zM1259.15 834.9h7.7v7.7h-7.7zM1278.71 841.65h7.7v7.7h-7.7zM1298.27 849.9h7.7v7.7h-7.7zM1317.83 876.65h7.7v7.7h-7.7zM1337.39 892.4h7.7v7.7h-7.7zM1356.96 883.65h7.7v7.7h-7.7zM1366.74 881.65h7.7v7.7h-7.7zM1386.3 866.15h7.7v7.7h-7.7zM1396.08 920.65h7.7v7.7h-7.7zM1405.86 839.9h7.7v7.7h-7.7zM1425.42 800.4h7.7v7.7h-7.7zM1444.99 786.9h7.7v7.7h-7.7zM1464.55 877.4h7.7v7.7h-7.7zM1474.33 851.65h7.7v7.7h-7.7zM1493.89 874.15h7.7v7.7h-7.7z" fill="#7030a0"/>
<polyline points="216.43,302 255.55,245.75 294.68,193.25 314.24,183.75 333.8,194.5 353.36,164.5 372.93,114 382.71,52 402.27,223.25 412.05,162.5 421.83,155.25 431.61,264 441.39,197.5 460.95,210.75 470.74,225.25 480.52,215.75 490.3,212 500.08,215.75 509.86,294.5 519.64,194.5 529.42,205.75 539.2,273.25 548.98,190.75 558.76,294.5 568.55,238 578.33,295.5 588.11,367.5 597.89,223.5 607.67,296.5 617.45,212.8 627.23,274.5 637.01,167.5 646.79,318.7 656.57,227.1 666.36,260.2 676.14,388.7 685.92,225.3 695.7,241.4 705.48,222.2 715.26,341.2 725.04,246.7 734.82,306.7 744.6,273.4 754.38,295.1 764.16,288.4 773.95,330.2 783.73,397.95 793.51,291.7 803.29,341.7 813.07,255.4 822.85,325.7 832.63,278.2 842.41,344.45 852.19,252 861.98,307.2 871.76,250.5 881.54,294.7 891.32,224.9 901.1,242.7 910.88,230.8 920.66,173.9 930.44,202.5 940.22,243.2 950,221.7 959.79,162.7 969.57,174.5 979.35,158.9 989.13,196 998.91,302 1008.69,168.9 1018.47,197.2 1028.25,148.2 1038.03,158.5 1057.6,129.9 1077.16,132.7 1096.72,139.2 1106.5,203.5 1126.06,224.1 1145.62,140.6 1165.19,299.1 1194.53,267.2 1223.87,297 1253.22,300.6 1263,244.4 1272.78,317.4 1282.56,220.9 1292.34,354.8 1302.12,235 1311.9,340.8 1321.68,320.2 1331.46,339.8 1341.24,271.5 1351.03,343.6 1360.81,293.1 1370.59,289.7 1380.37,335.2 1390.15,303.4 1399.93,369.8 1409.71,472.8 1419.49,429.7 1429.27,472.8 1439.05,407.6 1448.84,379.3 1458.62,408.8 1468.4,484.8 1487.96,429.5 1497.74,473.4 1507.52,529.4 1517.3,532.8 1527.08,618.4 1536.86,694.8 1546.65,627.8 1566.21,630.6 1575.99,591.2 1585.77,509.7 1605.33,497.5 1615.11,438.1" fill="none" stroke="#c00000" stroke-width="4.6" stroke-linejoin="round" stroke-linecap="round"/>
<path d="M216.43 296.9l5.1 10.2h-10.2zM255.55 240.65l5.1 10.2h-10.2zM294.68 188.15l5.1 10.2h-10.2zM314.24 178.65l5.1 10.2h-10.2zM333.8 189.4l5.1 10.2h-10.2zM353.36 159.4l5.1 10.2h-10.2zM372.93 108.9l5.1 10.2h-10.2zM382.71 46.9l5.1 10.2h-10.2zM402.27 218.15l5.1 10.2h-10.2zM412.05 157.4l5.1 10.2h-10.2zM421.83 150.15l5.1 10.2h-10.2zM431.61 258.9l5.1 10.2h-10.2zM441.39 192.4l5.1 10.2h-10.2zM460.95 205.65l5.1 10.2h-10.2zM470.74 220.15l5.1 10.2h-10.2zM480.52 210.65l5.1 10.2h-10.2zM490.3 206.9l5.1 10.2h-10.2zM500.08 210.65l5.1 10.2h-10.2zM509.86 289.4l5.1 10.2h-10.2zM519.64 189.4l5.1 10.2h-10.2zM529.42 200.65l5.1 10.2h-10.2zM539.2 268.15l5.1 10.2h-10.2zM548.98 185.65l5.1 10.2h-10.2zM558.76 289.4l5.1 10.2h-10.2zM568.55 232.9l5.1 10.2h-10.2zM578.33 290.4l5.1 10.2h-10.2zM588.11 362.4l5.1 10.2h-10.2zM597.89 218.4l5.1 10.2h-10.2zM607.67 291.4l5.1 10.2h-10.2zM617.45 207.7l5.1 10.2h-10.2zM627.23 269.4l5.1 10.2h-10.2zM637.01 162.4l5.1 10.2h-10.2zM646.79 313.6l5.1 10.2h-10.2zM656.57 222l5.1 10.2h-10.2zM666.36 255.1l5.1 10.2h-10.2zM676.14 383.6l5.1 10.2h-10.2zM685.92 220.2l5.1 10.2h-10.2zM695.7 236.3l5.1 10.2h-10.2zM705.48 217.1l5.1 10.2h-10.2zM715.26 336.1l5.1 10.2h-10.2zM725.04 241.6l5.1 10.2h-10.2zM734.82 301.6l5.1 10.2h-10.2zM744.6 268.3l5.1 10.2h-10.2zM754.38 290l5.1 10.2h-10.2zM764.16 283.3l5.1 10.2h-10.2zM773.95 325.1l5.1 10.2h-10.2zM783.73 392.85l5.1 10.2h-10.2zM793.51 286.6l5.1 10.2h-10.2zM803.29 336.6l5.1 10.2h-10.2zM813.07 250.3l5.1 10.2h-10.2zM822.85 320.6l5.1 10.2h-10.2zM832.63 273.1l5.1 10.2h-10.2zM842.41 339.35l5.1 10.2h-10.2zM852.19 246.9l5.1 10.2h-10.2zM861.98 302.1l5.1 10.2h-10.2zM871.76 245.4l5.1 10.2h-10.2zM881.54 289.6l5.1 10.2h-10.2zM891.32 219.8l5.1 10.2h-10.2zM901.1 237.6l5.1 10.2h-10.2zM910.88 225.7l5.1 10.2h-10.2zM920.66 168.8l5.1 10.2h-10.2zM930.44 197.4l5.1 10.2h-10.2zM940.22 238.1l5.1 10.2h-10.2zM950 216.6l5.1 10.2h-10.2zM959.79 157.6l5.1 10.2h-10.2zM969.57 169.4l5.1 10.2h-10.2zM979.35 153.8l5.1 10.2h-10.2zM989.13 190.9l5.1 10.2h-10.2zM998.91 296.9l5.1 10.2h-10.2zM1008.69 163.8l5.1 10.2h-10.2zM1018.47 192.1l5.1 10.2h-10.2zM1028.25 143.1l5.1 10.2h-10.2zM1038.03 153.4l5.1 10.2h-10.2zM1057.6 124.8l5.1 10.2h-10.2zM1077.16 127.6l5.1 10.2h-10.2zM1096.72 134.1l5.1 10.2h-10.2zM1106.5 198.4l5.1 10.2h-10.2zM1126.06 219l5.1 10.2h-10.2zM1145.62 135.5l5.1 10.2h-10.2zM1165.19 294l5.1 10.2h-10.2zM1194.53 262.1l5.1 10.2h-10.2zM1223.87 291.9l5.1 10.2h-10.2zM1253.22 295.5l5.1 10.2h-10.2zM1263 239.3l5.1 10.2h-10.2zM1272.78 312.3l5.1 10.2h-10.2zM1282.56 215.8l5.1 10.2h-10.2zM1292.34 349.7l5.1 10.2h-10.2zM1302.12 229.9l5.1 10.2h-10.2zM1311.9 335.7l5.1 10.2h-10.2zM1321.68 315.1l5.1 10.2h-10.2zM1331.46 334.7l5.1 10.2h-10.2zM1341.24 266.4l5.1 10.2h-10.2zM1351.03 338.5l5.1 10.2h-10.2zM1360.81 288l5.1 10.2h-10.2zM1370.59 284.6l5.1 10.2h-10.2zM1380.37 330.1l5.1 10.2h-10.2zM1390.15 298.3l5.1 10.2h-10.2zM1399.93 364.7l5.1 10.2h-10.2zM1409.71 467.7l5.1 10.2h-10.2zM1419.49 424.6l5.1 10.2h-10.2zM1429.27 467.7l5.1 10.2h-10.2zM1439.05 402.5l5.1 10.2h-10.2zM1448.84 374.2l5.1 10.2h-10.2zM1458.62 403.7l5.1 10.2h-10.2zM1468.4 479.7l5.1 10.2h-10.2zM1487.96 424.4l5.1 10.2h-10.2zM1497.74 468.3l5.1 10.2h-10.2zM1507.52 524.3l5.1 10.2h-10.2zM1517.3 527.7l5.1 10.2h-10.2zM1527.08 613.3l5.1 10.2h-10.2zM1536.86 689.7l5.1 10.2h-10.2zM1546.65 622.7l5.1 10.2h-10.2zM1566.21 625.5l5.1 10.2h-10.2zM1575.99 586.1l5.1 10.2h-10.2zM1585.77 504.6l5.1 10.2h-10.2zM1605.33 492.4l5.1 10.2h-10.2zM1615.11 433l5.1 10.2h-10.2z" fill="#c00000"/>
<polyline points="314.24,444.1 333.8,438.35 372.93,464.1 382.71,248.6 392.49,411.6 402.27,411.6 421.83,410.35 431.61,327.1 441.39,357.85 451.17,507.85 460.95,364.1 470.74,431.1 480.52,339.1 490.3,331.6 500.08,292.85 509.86,409.1 519.64,277.85 529.42,346.6 539.2,367.85 548.98,340.35 558.76,329.1 568.55,346.6 578.33,339.1 588.11,337.85 597.89,347.85 607.67,305.3 617.45,325.3 627.23,306.1 637.01,333.8 646.79,328.3 656.57,365.55 666.36,371.3 676.14,357.55 685.92,425.8 695.7,356.8 705.48,403.3 715.26,356.8 725.04,394.3 734.82,360 744.6,425 754.38,375.75 764.16,458.8 773.95,432 783.73,461.3 793.51,490.05 803.29,456.6 813.07,527.1 822.85,477.5 832.63,505 842.41,463.8 852.19,494.3 861.98,458.6 871.76,488.2 881.54,469.8 891.32,469.8 901.1,481.8 910.88,419.1 920.66,368 930.44,306.5 940.22,371.8 950,260.1 959.79,299 969.57,299 979.35,264.4 989.13,302.8 1008.69,353 1018.47,291.2 1028.25,285.8 1038.03,267.5 1057.6,192.9 1067.38,403.1 1077.16,189.2 1086.94,344.1 1096.72,178.3 1106.5,237.9 1126.06,337.1 1145.62,306.6 1155.41,277.4 1165.19,375.3 1174.97,330.9 1184.75,211.6 1194.53,330.9 1204.31,244.3 1214.09,357.6 1233.65,350.6 1253.22,350.6 1263,354.8 1282.56,351.5 1302.12,331.5 1321.68,338.4 1341.24,382 1360.81,428.8 1370.59,462.5 1390.15,519.3 1399.93,445.6 1409.71,532.8 1429.27,543.2 1448.84,502 1468.4,493.4 1478.18,557.6 1497.74,586" fill="none" stroke="#e60fd2" stroke-width="4.6" stroke-linejoin="round" stroke-linecap="round"/>
<path d="M314.24 439l5.1 10.2h-10.2zM333.8 433.25l5.1 10.2h-10.2zM372.93 459l5.1 10.2h-10.2zM382.71 243.5l5.1 10.2h-10.2zM392.49 406.5l5.1 10.2h-10.2zM402.27 406.5l5.1 10.2h-10.2zM421.83 405.25l5.1 10.2h-10.2zM431.61 322l5.1 10.2h-10.2zM441.39 352.75l5.1 10.2h-10.2zM451.17 502.75l5.1 10.2h-10.2zM460.95 359l5.1 10.2h-10.2zM470.74 426l5.1 10.2h-10.2zM480.52 334l5.1 10.2h-10.2zM490.3 326.5l5.1 10.2h-10.2zM500.08 287.75l5.1 10.2h-10.2zM509.86 404l5.1 10.2h-10.2zM519.64 272.75l5.1 10.2h-10.2zM529.42 341.5l5.1 10.2h-10.2zM539.2 362.75l5.1 10.2h-10.2zM548.98 335.25l5.1 10.2h-10.2zM558.76 324l5.1 10.2h-10.2zM568.55 341.5l5.1 10.2h-10.2zM578.33 334l5.1 10.2h-10.2zM588.11 332.75l5.1 10.2h-10.2zM597.89 342.75l5.1 10.2h-10.2zM607.67 300.2l5.1 10.2h-10.2zM617.45 320.2l5.1 10.2h-10.2zM627.23 301l5.1 10.2h-10.2zM637.01 328.7l5.1 10.2h-10.2zM646.79 323.2l5.1 10.2h-10.2zM656.57 360.45l5.1 10.2h-10.2zM666.36 366.2l5.1 10.2h-10.2zM676.14 352.45l5.1 10.2h-10.2zM685.92 420.7l5.1 10.2h-10.2zM695.7 351.7l5.1 10.2h-10.2zM705.48 398.2l5.1 10.2h-10.2zM715.26 351.7l5.1 10.2h-10.2zM725.04 389.2l5.1 10.2h-10.2zM734.82 354.9l5.1 10.2h-10.2zM744.6 419.9l5.1 10.2h-10.2zM754.38 370.65l5.1 10.2h-10.2zM764.16 453.7l5.1 10.2h-10.2zM773.95 426.9l5.1 10.2h-10.2zM783.73 456.2l5.1 10.2h-10.2zM793.51 484.95l5.1 10.2h-10.2zM803.29 451.5l5.1 10.2h-10.2zM813.07 522l5.1 10.2h-10.2zM822.85 472.4l5.1 10.2h-10.2zM832.63 499.9l5.1 10.2h-10.2zM842.41 458.7l5.1 10.2h-10.2zM852.19 489.2l5.1 10.2h-10.2zM861.98 453.5l5.1 10.2h-10.2zM871.76 483.1l5.1 10.2h-10.2zM881.54 464.7l5.1 10.2h-10.2zM891.32 464.7l5.1 10.2h-10.2zM901.1 476.7l5.1 10.2h-10.2zM910.88 414l5.1 10.2h-10.2zM920.66 362.9l5.1 10.2h-10.2zM930.44 301.4l5.1 10.2h-10.2zM940.22 366.7l5.1 10.2h-10.2zM950 255l5.1 10.2h-10.2zM959.79 293.9l5.1 10.2h-10.2zM969.57 293.9l5.1 10.2h-10.2zM979.35 259.3l5.1 10.2h-10.2zM989.13 297.7l5.1 10.2h-10.2zM1008.69 347.9l5.1 10.2h-10.2zM1018.47 286.1l5.1 10.2h-10.2zM1028.25 280.7l5.1 10.2h-10.2zM1038.03 262.4l5.1 10.2h-10.2zM1057.6 187.8l5.1 10.2h-10.2zM1067.38 398l5.1 10.2h-10.2zM1077.16 184.1l5.1 10.2h-10.2zM1086.94 339l5.1 10.2h-10.2zM1096.72 173.2l5.1 10.2h-10.2zM1106.5 232.8l5.1 10.2h-10.2zM1126.06 332l5.1 10.2h-10.2zM1145.62 301.5l5.1 10.2h-10.2zM1155.41 272.3l5.1 10.2h-10.2zM1165.19 370.2l5.1 10.2h-10.2zM1174.97 325.8l5.1 10.2h-10.2zM1184.75 206.5l5.1 10.2h-10.2zM1194.53 325.8l5.1 10.2h-10.2zM1204.31 239.2l5.1 10.2h-10.2zM1214.09 352.5l5.1 10.2h-10.2zM1233.65 345.5l5.1 10.2h-10.2zM1253.22 345.5l5.1 10.2h-10.2zM1263 349.7l5.1 10.2h-10.2zM1282.56 346.4l5.1 10.2h-10.2zM1302.12 326.4l5.1 10.2h-10.2zM1321.68 333.3l5.1 10.2h-10.2zM1341.24 376.9l5.1 10.2h-10.2zM1360.81 423.7l5.1 10.2h-10.2zM1370.59 457.4l5.1 10.2h-10.2zM1390.15 514.2l5.1 10.2h-10.2zM1399.93 440.5l5.1 10.2h-10.2zM1409.71 527.7l5.1 10.2h-10.2zM1429.27 538.1l5.1 10.2h-10.2zM1448.84 496.9l5.1 10.2h-10.2zM1468.4 488.3l5.1 10.2h-10.2zM1478.18 552.5l5.1 10.2h-10.2zM1497.74 580.9l5.1 10.2h-10.2z" fill="#e60fd2"/>
<path d="M123.1 14.0V1122.6H1649.2V14.0" fill="none" stroke="#000" stroke-width="4.2" stroke-linejoin="miter"/>
<path d="M113.6 15.6H123.1M1649.2 15.6h9.5M113.6 138.6H123.1M1649.2 138.6h9.5M113.6 261.6H123.1M1649.2 261.6h9.5M113.6 384.6H123.1M1649.2 384.6h9.5M113.6 507.6H123.1M1649.2 507.6h9.5M113.6 630.6H123.1M1649.2 630.6h9.5M113.6 753.6H123.1M1649.2 753.6h9.5M113.6 876.6H123.1M1649.2 876.6h9.5M113.6 999.6H123.1M1649.2 999.6h9.5M113.6 1122.6H123.1M1649.2 1122.6h9.5M123.1 1122.6v9.5M240.34 1122.6v9.5M357.58 1122.6v9.5M474.82 1122.6v9.5M592.05 1122.6v9.5M709.29 1122.6v9.5M826.53 1122.6v9.5M943.77 1122.6v9.5M1061.01 1122.6v9.5M1178.25 1122.6v9.5M1295.48 1122.6v9.5M1412.72 1122.6v9.5M1529.96 1122.6v9.5M1647.2 1122.6v9.5" fill="none" stroke="#000" stroke-width="4.1"/>
<text x="95" y="26.2" font-size="31" text-anchor="end">-8</text>
<text x="1678" y="26.2" font-size="31">22</text>
<text x="95" y="149.2" font-size="31" text-anchor="end">-9</text>
<text x="1678" y="149.2" font-size="31">21</text>
<text x="95" y="272.2" font-size="31" text-anchor="end">-10</text>
<text x="1678" y="272.2" font-size="31">20</text>
<text x="95" y="395.2" font-size="31" text-anchor="end">-11</text>
<text x="1678" y="395.2" font-size="31">19</text>
<text x="95" y="518.2" font-size="31" text-anchor="end">-12</text>
<text x="1678" y="518.2" font-size="31">18</text>
<text x="95" y="641.2" font-size="31" text-anchor="end">-13</text>
<text x="1678" y="641.2" font-size="31">17</text>
<text x="95" y="764.2" font-size="31" text-anchor="end">-14</text>
<text x="1678" y="764.2" font-size="31">16</text>
<text x="95" y="887.2" font-size="31" text-anchor="end">-15</text>
<text x="1678" y="887.2" font-size="31">15</text>
<text x="95" y="1010.2" font-size="31" text-anchor="end">-16</text>
<text x="1678" y="1010.2" font-size="31">14</text>
<text x="95" y="1133.2" font-size="31" text-anchor="end">-17</text>
<text x="1678" y="1133.2" font-size="31">13</text>
<text transform="translate(118.3 1167.4) rotate(29.7)" font-size="31.5">Jan-04</text>
<text transform="translate(235.54 1167.4) rotate(29.7)" font-size="31.5">Jan-05</text>
<text transform="translate(352.78 1167.4) rotate(29.7)" font-size="31.5">Jan-06</text>
<text transform="translate(470.02 1167.4) rotate(29.7)" font-size="31.5">Jan-07</text>
<text transform="translate(587.25 1167.4) rotate(29.7)" font-size="31.5">Jan-08</text>
<text transform="translate(704.49 1167.4) rotate(29.7)" font-size="31.5">Jan-09</text>
<text transform="translate(821.73 1167.4) rotate(29.7)" font-size="31.5">Jan-10</text>
<text transform="translate(938.97 1167.4) rotate(29.7)" font-size="31.5">Jan-11</text>
<text transform="translate(1056.21 1167.4) rotate(29.7)" font-size="31.5">Jan-12</text>
<text transform="translate(1173.45 1167.4) rotate(29.7)" font-size="31.5">Jan-13</text>
<text transform="translate(1290.68 1167.4) rotate(29.7)" font-size="31.5">Jan-14</text>
<text transform="translate(1407.92 1167.4) rotate(29.7)" font-size="31.5">Jan-15</text>
<text transform="translate(1525.16 1167.4) rotate(29.7)" font-size="31.5">Jan-16</text>
<text transform="translate(1642.4 1167.4) rotate(29.7)" font-size="31.5">Jan-17</text>
<text transform="translate(29.2 567) rotate(-90)" font-size="32.2" text-anchor="middle">δ<tspan font-size="18.5" dy="-11.3">13</tspan><tspan dy="11.3">C (‰)</tspan></text>
<text transform="translate(1759.2 567) rotate(-90)" font-size="32.2" text-anchor="middle">δ<tspan font-size="18.5" dy="-11.3">15</tspan><tspan dy="11.3">N (‰)</tspan></text>
<text x="918.5" y="1262.7" font-size="32" text-anchor="middle">Date (Year)</text>
<path d="M160 898.2H209.5" stroke="#4472c4" stroke-width="4.5" stroke-linecap="round" fill="none"/>
<rect x="181.15" y="894.35" width="7.7" height="7.7" fill="#4472c4"/>
<text x="215.6" y="907" font-size="26.7">δ13C MALE</text>
<path d="M160 961.6H209.5" stroke="#7030a0" stroke-width="4.5" stroke-linecap="round" fill="none"/>
<rect x="181.15" y="957.75" width="7.7" height="7.7" fill="#7030a0"/>
<text x="215.6" y="970.4" font-size="26.7">δ13C FEMALE</text>
<path d="M160 1024.8H209.5" stroke="#c00000" stroke-width="4.5" stroke-linecap="round" fill="none"/>
<path d="M185 1019.7l5.1 10.2h-10.2z" fill="#c00000"/>
<text x="215.6" y="1033.6" font-size="26.7">δ15N MALE</text>
<path d="M160 1088.4H209.5" stroke="#e60fd2" stroke-width="4.5" stroke-linecap="round" fill="none"/>
<path d="M185 1083.3l5.1 10.2h-10.2z" fill="#e60fd2"/>
<text x="215.6" y="1097.2" font-size="26.7">δ15N FEMALE</text>
</svg></body></html>
